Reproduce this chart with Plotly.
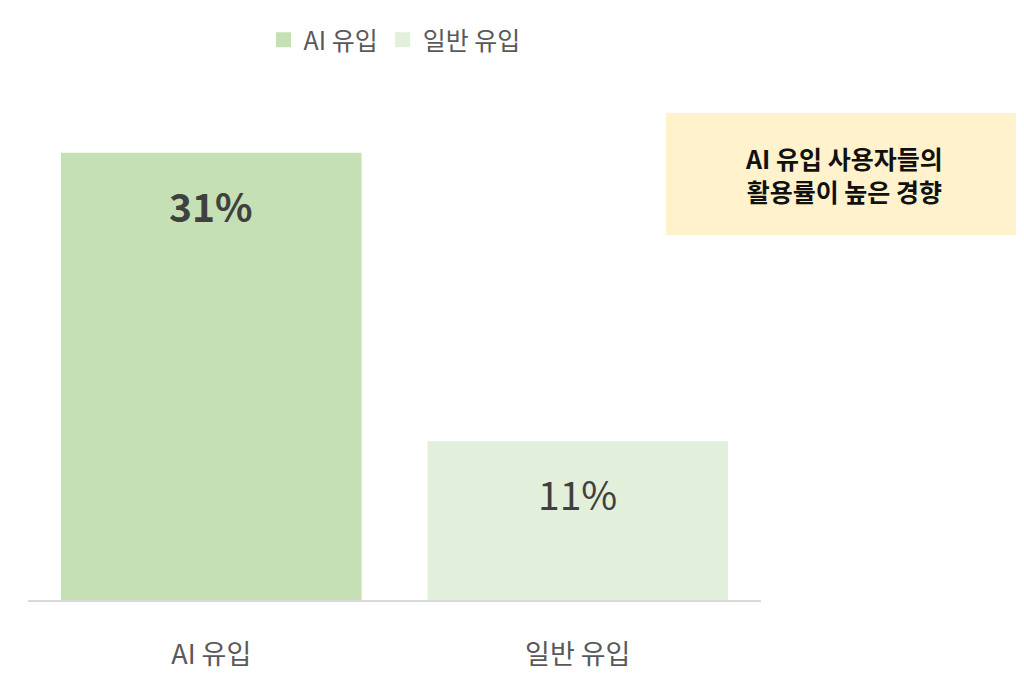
import plotly.graph_objects as go

categories = ["AI 유입", "일반 유입"]
values = [31, 11]
labels = ["31%", "11%"]
colors = ["#c5e0b4", "#e2efda"]
note_text = "AI 유입 사용자들의<br>활용률이 높은 경향"

FONT = "Noto Sans CJK KR"

fig = go.Figure()
for c, v, col in zip(categories, values, colors):
    fig.add_trace(go.Bar(
        x=[c], y=[v], name=c, marker_color=col, marker_line_width=0,
        hoverinfo="skip", showlegend=False, legendgroup=c,
    ))
# legend entries with larger square swatches
for c, col in zip(categories, colors):
    fig.add_trace(go.Scatter(
        x=[c], y=[None], mode="markers", name=c, legendgroup=c,
        marker=dict(symbol="square", size=15, color=col),
        hoverinfo="skip", showlegend=True,
    ))

for i, (c, v, t) in enumerate(zip(categories, values, labels)):
    fig.add_annotation(
        x=c, y=v, text=t, showarrow=False, yanchor="middle", yshift=-52,
        font=dict(family=FONT, size=39, color="#404040",
                  weight="bold" if i == 0 else "normal"),
    )

fig.add_shape(type="rect", xref="paper", yref="paper",
              x0=0.8704, x1=1.36, y0=0.73, y1=0.974,
              fillcolor="#fff2cc", line_width=0, layer="below")
fig.add_annotation(xref="paper", yref="paper", x=1.113, y=0.852,
                   xanchor="center", yanchor="middle",
                   text=note_text, showarrow=False, align="center",
                   font=dict(family=FONT, size=25, color="#111111", weight="bold"))

fig.update_layout(
    width=1016, height=680,
    margin=dict(l=20, r=263, t=92, b=88, autoexpand=False),
    paper_bgcolor="white", plot_bgcolor="white",
    barmode="overlay", bargap=0.18,
    font=dict(family=FONT, color="#595959"),
    legend=dict(orientation="h", x=0.5, xanchor="center", y=1.12, yanchor="middle",
                font=dict(size=25, color="#595959", family=FONT),
                itemsizing="trace", traceorder="normal", itemwidth=30),
    showlegend=True,
)
fig.update_xaxes(showline=True, linecolor="#d9d9d9", linewidth=2, ticks="",
                 tickfont=dict(size=27, color="#595959", family=FONT),
                 ticklabelstandoff=30, automargin=False,
                 showgrid=False)
fig.update_yaxes(range=[0, 34.65], visible=False, showgrid=False)

fig.write_html("out.html")
